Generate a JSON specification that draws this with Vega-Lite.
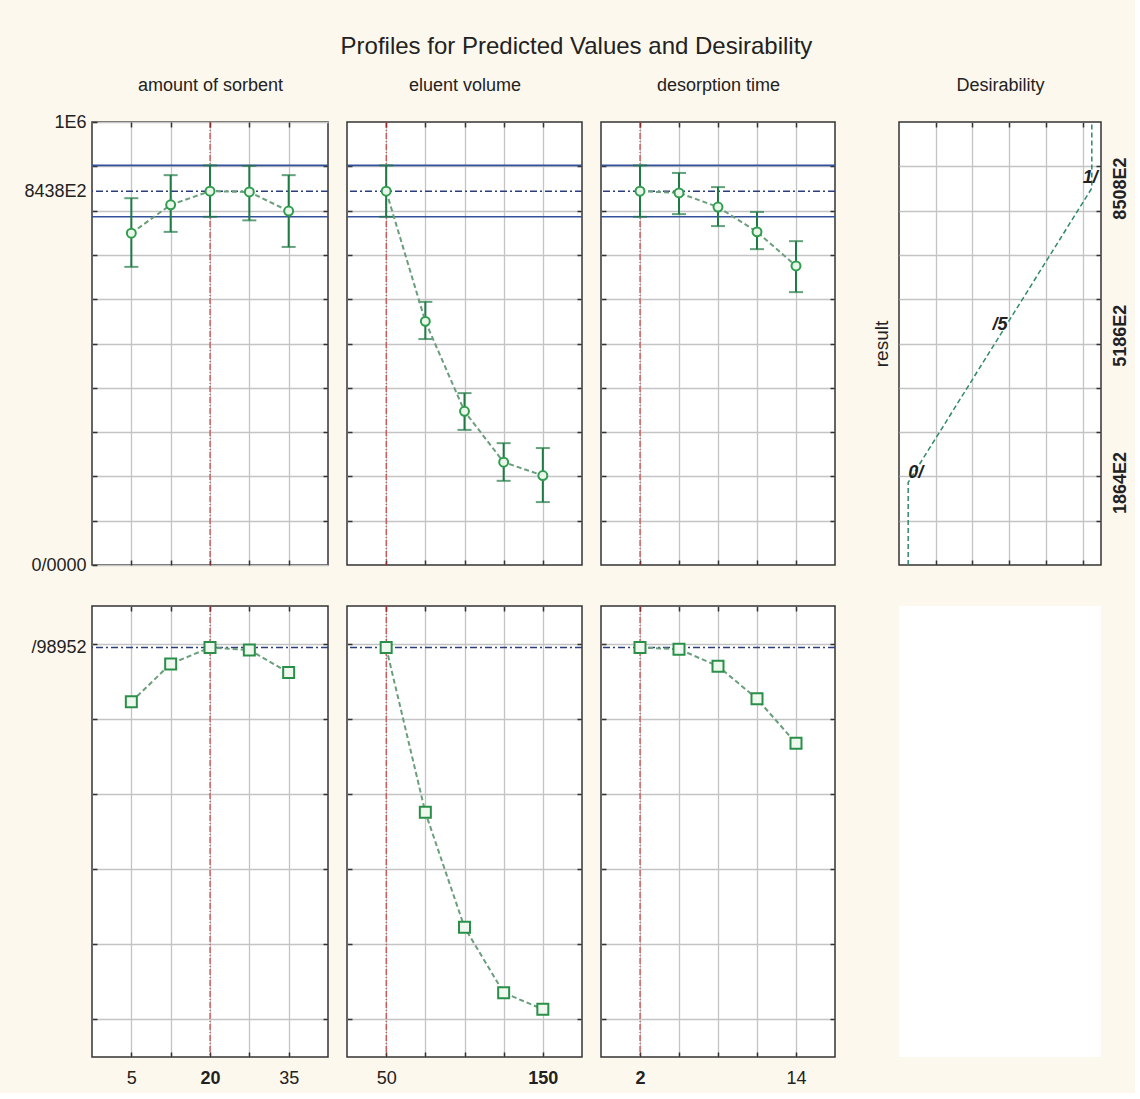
{
"$schema": "https://vega.github.io/schema/vega-lite/v6.json",
"background": "#fdf8ee",
"padding": {"left": 23, "top": 34, "right": 5, "bottom": 5},
"title": {"text": "Profiles for Predicted Values and Desirability", "fontSize": 24, "fontWeight": "normal", "color": "#222222", "offset": 17, "anchor": "middle"},
"columns": 5,
"spacing": {"row": 41, "column": 19},
"bounds": "flush",
"align": "each",
"config": {
  "font": "Liberation Sans",
  "view": {"fill": "white", "stroke": "#333333", "strokeWidth": 1.5},
  "axis": {"domain": false, "tickColor": "#333333", "tickSize": -5, "tickWidth": 1.5, "gridColor": "#c4c4c4", "gridWidth": 1.3, "labelFont": "Liberation Sans", "labelFontSize": 18, "labelColor": "#222222", "labelOverlap": false, "titleFont": "Liberation Sans", "titleFontWeight": "normal", "titleFontSize": 18, "titleColor": "#222222"},
  "title": {"font": "Liberation Sans", "fontWeight": "normal", "color": "#222222"}
},
"datasets": {
  "ciT": [{"y": 902000}, {"y": 786000}],
  "tgtT": [{"y": 843800}],
  "tgtB": [{"y": 0.98952}],
  "curS": [{"x": 20}],
  "curE": [{"x": 50}],
  "curD": [{"x": 2}],
  "sorbT": [
    {"x": 5, "val": 749000, "lo": 673000, "hi": 828000},
    {"x": 12.5, "val": 813000, "lo": 752000, "hi": 880000},
    {"x": 20, "val": 843800, "lo": 786000, "hi": 902000},
    {"x": 27.5, "val": 842000, "lo": 778000, "hi": 901000},
    {"x": 35, "val": 799000, "lo": 718000, "hi": 880000}
  ],
  "eluT": [
    {"x": 50, "val": 843800, "lo": 786000, "hi": 902000},
    {"x": 75, "val": 550000, "lo": 510000, "hi": 594000},
    {"x": 100, "val": 347000, "lo": 305000, "hi": 388000},
    {"x": 125, "val": 232000, "lo": 190000, "hi": 275000},
    {"x": 150, "val": 202000, "lo": 142000, "hi": 264000}
  ],
  "desT": [
    {"x": 2, "val": 843800, "lo": 786000, "hi": 902000},
    {"x": 5, "val": 840000, "lo": 792000, "hi": 885000},
    {"x": 8, "val": 808000, "lo": 765000, "hi": 853000},
    {"x": 11, "val": 752000, "lo": 713000, "hi": 797000},
    {"x": 14, "val": 675000, "lo": 616000, "hi": 731000}
  ],
  "sorbB": [
    {"x": 5, "d": 0.845}, {"x": 12.5, "d": 0.946}, {"x": 20, "d": 0.9895}, {"x": 27.5, "d": 0.983}, {"x": 35, "d": 0.923}
  ],
  "eluB": [
    {"x": 50, "d": 0.9895}, {"x": 75, "d": 0.551}, {"x": 100, "d": 0.245}, {"x": 125, "d": 0.071}, {"x": 150, "d": 0.027}
  ],
  "desB": [
    {"x": 2, "d": 0.9895}, {"x": 5, "d": 0.985}, {"x": 8, "d": 0.94}, {"x": 11, "d": 0.853}, {"x": 14, "d": 0.735}
  ],
  "curve": [
    {"i": 1, "d": 0, "r": 0}, {"i": 2, "d": 0, "r": 186400}, {"i": 3, "d": 1, "r": 850800}, {"i": 4, "d": 1, "r": 1000000}
  ],
  "dlab": [
    {"d": 0, "r": 186400, "t": "0/"}, {"d": 0.5, "r": 518600, "t": "/5"}, {"d": 1, "r": 850800, "t": "1/"}
  ]
},
"concat": [
  {"width": 236, "height": 443,
   "resolve": {"axis": {"x": "independent", "y": "independent"}},
   "layer": [
    {"data": {"name": "ciT"}, "mark": {"type": "rule", "color": "#34519b", "strokeWidth": 1.6},
     "encoding": {"y": {"field": "y", "type": "quantitative", "scale": {"domain": [0, 1000000], "nice": false, "zero": false}, "axis": null}}},
    {"data": {"name": "tgtT"}, "mark": {"type": "rule", "color": "#2c3d7c", "strokeWidth": 1.6, "strokeDash": [7, 3, 2, 3]},
     "encoding": {"y": {"field": "y", "type": "quantitative", "scale": {"domain": [0, 1000000], "nice": false, "zero": false}, "axis": null}}},
    {"data": {"name": "curS"}, "mark": {"type": "rule", "color": "#cc2a2a", "strokeWidth": 1, "strokeDash": [6, 2, 1, 2]},
     "encoding": {"x": {"field": "x", "type": "quantitative", "scale": {"domain": [-2.5, 42.5], "nice": false, "zero": false}, "axis": null}}},
    {"data": {"name": "sorbT"}, "mark": {"type": "rule", "color": "#1f7a45", "strokeWidth": 2},
     "encoding": {
       "x": {"field": "x", "type": "quantitative", "scale": {"domain": [-2.5, 42.5], "nice": false, "zero": false}, "axis": {"orient": "bottom", "values": [5, 12.5, 20, 27.5, 35], "labels": false, "grid": true, "title": null}},
       "y": {"field": "lo", "type": "quantitative", "scale": {"domain": [0, 1000000], "nice": false, "zero": false}, "axis": {"orient": "left", "values": [0, 100000, 200000, 300000, 400000, 500000, 600000, 700000, 800000, 900000, 1000000, 843800], "labelExpr": "datum.value == 1000000 ? '1E6' : datum.value == 843800 ? '8438E2' : datum.value == 0 ? '0/0000' : ''", "labelPadding": 11, "grid": true, "title": null, "gridOpacity": {"condition": {"test": "datum.value == 843800", "value": 0}, "value": 1}, "tickOpacity": {"condition": {"test": "datum.value == 843800", "value": 0}, "value": 1}}},
       "y2": {"field": "hi"}}},
    {"data": {"name": "sorbT"}, "mark": {"type": "tick", "orient": "horizontal", "color": "#1f7a45", "size": 14, "thickness": 2},
     "encoding": {
       "x": {"field": "x", "type": "quantitative", "scale": {"domain": [-2.5, 42.5], "nice": false, "zero": false}, "axis": null},
       "y": {"field": "lo", "type": "quantitative", "scale": {"domain": [0, 1000000], "nice": false, "zero": false}, "axis": null}}},
    {"data": {"name": "sorbT"}, "mark": {"type": "tick", "orient": "horizontal", "color": "#1f7a45", "size": 14, "thickness": 2},
     "encoding": {
       "x": {"field": "x", "type": "quantitative", "scale": {"domain": [-2.5, 42.5], "nice": false, "zero": false}, "axis": null},
       "y": {"field": "hi", "type": "quantitative", "scale": {"domain": [0, 1000000], "nice": false, "zero": false}, "axis": null}}},
    {"data": {"name": "sorbT"}, "mark": {"type": "line", "color": "#6a9e7c", "strokeWidth": 2, "strokeDash": [5, 3]},
     "encoding": {
       "x": {"field": "x", "type": "quantitative", "scale": {"domain": [-2.5, 42.5], "nice": false, "zero": false}, "axis": null},
       "y": {"field": "val", "type": "quantitative", "scale": {"domain": [0, 1000000], "nice": false, "zero": false}, "axis": null}}},
    {"data": {"name": "sorbT"}, "mark": {"type": "point", "shape": "circle", "size": 80, "filled": true, "fill": "#eaf6ea", "stroke": "#2f9d4e", "strokeWidth": 2, "opacity": 1},
     "encoding": {
       "x": {"field": "x", "type": "quantitative", "scale": {"domain": [-2.5, 42.5], "nice": false, "zero": false}, "axis": {"orient": "top", "values": [5, 12.5, 20, 27.5, 35], "labels": false, "grid": false, "title": "amount of sorbent", "titlePadding": 27}},
       "y": {"field": "val", "type": "quantitative", "scale": {"domain": [0, 1000000], "nice": false, "zero": false}, "axis": {"orient": "right", "values": [100000, 200000, 300000, 400000, 500000, 600000, 700000, 800000, 900000], "labels": false, "grid": false, "title": null}}}}
   ]},
  {"width": 235, "height": 443,
   "resolve": {"axis": {"x": "independent", "y": "independent"}},
   "layer": [
    {"data": {"name": "ciT"}, "mark": {"type": "rule", "color": "#34519b", "strokeWidth": 1.6},
     "encoding": {"y": {"field": "y", "type": "quantitative", "scale": {"domain": [0, 1000000], "nice": false, "zero": false}, "axis": null}}},
    {"data": {"name": "tgtT"}, "mark": {"type": "rule", "color": "#2c3d7c", "strokeWidth": 1.6, "strokeDash": [7, 3, 2, 3]},
     "encoding": {"y": {"field": "y", "type": "quantitative", "scale": {"domain": [0, 1000000], "nice": false, "zero": false}, "axis": null}}},
    {"data": {"name": "curE"}, "mark": {"type": "rule", "color": "#cc2a2a", "strokeWidth": 1, "strokeDash": [6, 2, 1, 2]},
     "encoding": {"x": {"field": "x", "type": "quantitative", "scale": {"domain": [25, 175], "nice": false, "zero": false}, "axis": null}}},
    {"data": {"name": "eluT"}, "mark": {"type": "rule", "color": "#1f7a45", "strokeWidth": 2},
     "encoding": {
       "x": {"field": "x", "type": "quantitative", "scale": {"domain": [25, 175], "nice": false, "zero": false}, "axis": {"orient": "bottom", "values": [50, 75, 100, 125, 150], "labels": false, "grid": true, "title": null}},
       "y": {"field": "lo", "type": "quantitative", "scale": {"domain": [0, 1000000], "nice": false, "zero": false}, "axis": {"orient": "left", "values": [100000, 200000, 300000, 400000, 500000, 600000, 700000, 800000, 900000], "labels": false, "grid": true, "title": null}},
       "y2": {"field": "hi"}}},
    {"data": {"name": "eluT"}, "mark": {"type": "tick", "orient": "horizontal", "color": "#1f7a45", "size": 14, "thickness": 2},
     "encoding": {
       "x": {"field": "x", "type": "quantitative", "scale": {"domain": [25, 175], "nice": false, "zero": false}, "axis": null},
       "y": {"field": "lo", "type": "quantitative", "scale": {"domain": [0, 1000000], "nice": false, "zero": false}, "axis": null}}},
    {"data": {"name": "eluT"}, "mark": {"type": "tick", "orient": "horizontal", "color": "#1f7a45", "size": 14, "thickness": 2},
     "encoding": {
       "x": {"field": "x", "type": "quantitative", "scale": {"domain": [25, 175], "nice": false, "zero": false}, "axis": null},
       "y": {"field": "hi", "type": "quantitative", "scale": {"domain": [0, 1000000], "nice": false, "zero": false}, "axis": null}}},
    {"data": {"name": "eluT"}, "mark": {"type": "line", "color": "#6a9e7c", "strokeWidth": 2, "strokeDash": [5, 3]},
     "encoding": {
       "x": {"field": "x", "type": "quantitative", "scale": {"domain": [25, 175], "nice": false, "zero": false}, "axis": null},
       "y": {"field": "val", "type": "quantitative", "scale": {"domain": [0, 1000000], "nice": false, "zero": false}, "axis": null}}},
    {"data": {"name": "eluT"}, "mark": {"type": "point", "shape": "circle", "size": 80, "filled": true, "fill": "#eaf6ea", "stroke": "#2f9d4e", "strokeWidth": 2, "opacity": 1},
     "encoding": {
       "x": {"field": "x", "type": "quantitative", "scale": {"domain": [25, 175], "nice": false, "zero": false}, "axis": {"orient": "top", "values": [50, 75, 100, 125, 150], "labels": false, "grid": false, "title": "eluent volume", "titlePadding": 27}},
       "y": {"field": "val", "type": "quantitative", "scale": {"domain": [0, 1000000], "nice": false, "zero": false}, "axis": {"orient": "right", "values": [100000, 200000, 300000, 400000, 500000, 600000, 700000, 800000, 900000], "labels": false, "grid": false, "title": null}}}}
   ]},
  {"width": 234, "height": 443,
   "resolve": {"axis": {"x": "independent", "y": "independent"}},
   "layer": [
    {"data": {"name": "ciT"}, "mark": {"type": "rule", "color": "#34519b", "strokeWidth": 1.6},
     "encoding": {"y": {"field": "y", "type": "quantitative", "scale": {"domain": [0, 1000000], "nice": false, "zero": false}, "axis": null}}},
    {"data": {"name": "tgtT"}, "mark": {"type": "rule", "color": "#2c3d7c", "strokeWidth": 1.6, "strokeDash": [7, 3, 2, 3]},
     "encoding": {"y": {"field": "y", "type": "quantitative", "scale": {"domain": [0, 1000000], "nice": false, "zero": false}, "axis": null}}},
    {"data": {"name": "curD"}, "mark": {"type": "rule", "color": "#cc2a2a", "strokeWidth": 1, "strokeDash": [6, 2, 1, 2]},
     "encoding": {"x": {"field": "x", "type": "quantitative", "scale": {"domain": [-1, 17], "nice": false, "zero": false}, "axis": null}}},
    {"data": {"name": "desT"}, "mark": {"type": "rule", "color": "#1f7a45", "strokeWidth": 2},
     "encoding": {
       "x": {"field": "x", "type": "quantitative", "scale": {"domain": [-1, 17], "nice": false, "zero": false}, "axis": {"orient": "bottom", "values": [2, 5, 8, 11, 14], "labels": false, "grid": true, "title": null}},
       "y": {"field": "lo", "type": "quantitative", "scale": {"domain": [0, 1000000], "nice": false, "zero": false}, "axis": {"orient": "left", "values": [100000, 200000, 300000, 400000, 500000, 600000, 700000, 800000, 900000], "labels": false, "grid": true, "title": null}},
       "y2": {"field": "hi"}}},
    {"data": {"name": "desT"}, "mark": {"type": "tick", "orient": "horizontal", "color": "#1f7a45", "size": 14, "thickness": 2},
     "encoding": {
       "x": {"field": "x", "type": "quantitative", "scale": {"domain": [-1, 17], "nice": false, "zero": false}, "axis": null},
       "y": {"field": "lo", "type": "quantitative", "scale": {"domain": [0, 1000000], "nice": false, "zero": false}, "axis": null}}},
    {"data": {"name": "desT"}, "mark": {"type": "tick", "orient": "horizontal", "color": "#1f7a45", "size": 14, "thickness": 2},
     "encoding": {
       "x": {"field": "x", "type": "quantitative", "scale": {"domain": [-1, 17], "nice": false, "zero": false}, "axis": null},
       "y": {"field": "hi", "type": "quantitative", "scale": {"domain": [0, 1000000], "nice": false, "zero": false}, "axis": null}}},
    {"data": {"name": "desT"}, "mark": {"type": "line", "color": "#6a9e7c", "strokeWidth": 2, "strokeDash": [5, 3]},
     "encoding": {
       "x": {"field": "x", "type": "quantitative", "scale": {"domain": [-1, 17], "nice": false, "zero": false}, "axis": null},
       "y": {"field": "val", "type": "quantitative", "scale": {"domain": [0, 1000000], "nice": false, "zero": false}, "axis": null}}},
    {"data": {"name": "desT"}, "mark": {"type": "point", "shape": "circle", "size": 80, "filled": true, "fill": "#eaf6ea", "stroke": "#2f9d4e", "strokeWidth": 2, "opacity": 1},
     "encoding": {
       "x": {"field": "x", "type": "quantitative", "scale": {"domain": [-1, 17], "nice": false, "zero": false}, "axis": {"orient": "top", "values": [2, 5, 8, 11, 14], "labels": false, "grid": false, "title": "desorption time", "titlePadding": 27}},
       "y": {"field": "val", "type": "quantitative", "scale": {"domain": [0, 1000000], "nice": false, "zero": false}, "axis": {"orient": "right", "values": [100000, 200000, 300000, 400000, 500000, 600000, 700000, 800000, 900000], "labels": false, "grid": false, "title": null}}}}
   ]},
  {"width": 26, "height": 443, "view": {"stroke": null, "fill": null},
   "data": {"values": [{}]}, "mark": {"type": "point", "opacity": 0}},
  {"width": 202, "height": 443,
   "resolve": {"axis": {"x": "independent", "y": "independent"}},
   "layer": [
    {"data": {"name": "curve"}, "mark": {"type": "line", "color": "#2f8a6a", "strokeWidth": 1.5, "strokeDash": [5, 3]},
     "encoding": {
       "x": {"field": "d", "type": "quantitative", "scale": {"domain": [-0.05, 1.05], "nice": false, "zero": false}, "axis": {"orient": "bottom", "values": [0.15, 0.35, 0.55, 0.75, 0.95], "labels": false, "grid": true, "title": null}},
       "y": {"field": "r", "type": "quantitative", "scale": {"domain": [0, 1000000], "nice": false, "zero": false}, "axis": {"orient": "left", "values": [100000, 200000, 300000, 400000, 500000, 600000, 700000, 800000, 900000], "labels": false, "grid": true, "title": "result", "titleFontSize": 19, "titlePadding": 8, "ticks": false}},
       "order": {"field": "i", "type": "quantitative"}}},
    {"data": {"name": "dlab"}, "transform": [{"filter": "datum.t == '0/'"}],
     "mark": {"type": "text", "align": "left", "baseline": "alphabetic", "dy": -4, "fontSize": 18, "fontStyle": "italic", "fontWeight": "bold", "color": "#222222"},
     "encoding": {
       "x": {"field": "d", "type": "quantitative", "scale": {"domain": [-0.05, 1.05], "nice": false, "zero": false}, "axis": null},
       "y": {"field": "r", "type": "quantitative", "scale": {"domain": [0, 1000000], "nice": false, "zero": false}, "axis": null},
       "text": {"field": "t"}}},
    {"data": {"name": "dlab"}, "transform": [{"filter": "datum.t == '/5'"}],
     "mark": {"type": "text", "align": "center", "baseline": "alphabetic", "dy": -5, "fontSize": 18, "fontStyle": "italic", "fontWeight": "bold", "color": "#222222"},
     "encoding": {
       "x": {"field": "d", "type": "quantitative", "scale": {"domain": [-0.05, 1.05], "nice": false, "zero": false}, "axis": null},
       "y": {"field": "r", "type": "quantitative", "scale": {"domain": [0, 1000000], "nice": false, "zero": false}, "axis": null},
       "text": {"field": "t"}}},
    {"data": {"name": "dlab"}, "transform": [{"filter": "datum.t == '1/'"}],
     "mark": {"type": "text", "align": "right", "baseline": "alphabetic", "dx": 6, "dy": -5, "fontSize": 18, "fontStyle": "italic", "fontWeight": "bold", "color": "#222222"},
     "encoding": {
       "x": {"field": "d", "type": "quantitative", "scale": {"domain": [-0.05, 1.05], "nice": false, "zero": false}, "axis": {"orient": "top", "values": [0.15, 0.35, 0.55, 0.75, 0.95], "labels": false, "grid": false, "title": "Desirability", "titlePadding": 27}},
       "y": {"field": "r", "type": "quantitative", "scale": {"domain": [0, 1000000], "nice": false, "zero": false}, "axis": {"orient": "right", "values": [100000, 200000, 300000, 400000, 500000, 600000, 700000, 800000, 900000, 186400, 518600, 850800], "labelExpr": "datum.value == 186400 ? '1864E2' : datum.value == 518600 ? '5186E2' : datum.value == 850800 ? '8508E2' : ''", "labelAngle": 270, "labelAlign": "center", "labelBaseline": "top", "labelPadding": 15, "labelFontWeight": "bold", "grid": false, "title": null, "tickOpacity": {"condition": {"test": "datum.value == 186400 || datum.value == 518600 || datum.value == 850800", "value": 0}, "value": 1}}},
       "text": {"field": "t"}}}
   ]},
  {"width": 236, "height": 451,
   "resolve": {"axis": {"x": "independent", "y": "independent"}},
   "layer": [
    {"data": {"name": "tgtB"}, "mark": {"type": "rule", "color": "#2c3d7c", "strokeWidth": 1.6, "strokeDash": [7, 3, 2, 3]},
     "encoding": {"y": {"field": "y", "type": "quantitative", "scale": {"domain": [-0.1, 1.1], "nice": false, "zero": false}, "axis": null}}},
    {"data": {"name": "curS"}, "mark": {"type": "rule", "color": "#cc2a2a", "strokeWidth": 1, "strokeDash": [6, 2, 1, 2]},
     "encoding": {"x": {"field": "x", "type": "quantitative", "scale": {"domain": [-2.5, 42.5], "nice": false, "zero": false}, "axis": null}}},
    {"data": {"name": "sorbB"}, "mark": {"type": "line", "color": "#6a9e7c", "strokeWidth": 2, "strokeDash": [5, 3]},
     "encoding": {
       "x": {"field": "x", "type": "quantitative", "scale": {"domain": [-2.5, 42.5], "nice": false, "zero": false}, "axis": {"orient": "bottom", "values": [5, 12.5, 20, 27.5, 35], "labelExpr": "datum.value == 5 ? '5' : datum.value == 20 ? '20' : datum.value == 35 ? '35' : ''", "labelFontWeight": {"condition": {"test": "datum.value == 20", "value": "bold"}, "value": "normal"}, "labelPadding": 17, "grid": true, "title": null}},
       "y": {"field": "d", "type": "quantitative", "scale": {"domain": [-0.1, 1.1], "nice": false, "zero": false}, "axis": {"orient": "left", "values": [0, 0.2, 0.4, 0.6, 0.8, 1, 0.98952], "labelExpr": "datum.value == 0.98952 ? '/98952' : ''", "labelPadding": 11, "grid": true, "title": null, "gridOpacity": {"condition": {"test": "datum.value == 0.98952", "value": 0}, "value": 1}, "tickOpacity": {"condition": {"test": "datum.value == 0.98952", "value": 0}, "value": 1}}}}},
    {"data": {"name": "sorbB"}, "mark": {"type": "point", "shape": "square", "size": 121, "filled": true, "fill": "#eef8ee", "stroke": "#2a8f48", "strokeWidth": 2, "opacity": 1},
     "encoding": {
       "x": {"field": "x", "type": "quantitative", "scale": {"domain": [-2.5, 42.5], "nice": false, "zero": false}, "axis": {"orient": "top", "values": [5, 12.5, 20, 27.5, 35], "labels": false, "grid": false, "title": null}},
       "y": {"field": "d", "type": "quantitative", "scale": {"domain": [-0.1, 1.1], "nice": false, "zero": false}, "axis": {"orient": "right", "values": [0, 0.2, 0.4, 0.6, 0.8, 1], "labels": false, "grid": false, "title": null}}}}
   ]},
  {"width": 235, "height": 451,
   "resolve": {"axis": {"x": "independent", "y": "independent"}},
   "layer": [
    {"data": {"name": "tgtB"}, "mark": {"type": "rule", "color": "#2c3d7c", "strokeWidth": 1.6, "strokeDash": [7, 3, 2, 3]},
     "encoding": {"y": {"field": "y", "type": "quantitative", "scale": {"domain": [-0.1, 1.1], "nice": false, "zero": false}, "axis": null}}},
    {"data": {"name": "curE"}, "mark": {"type": "rule", "color": "#cc2a2a", "strokeWidth": 1, "strokeDash": [6, 2, 1, 2]},
     "encoding": {"x": {"field": "x", "type": "quantitative", "scale": {"domain": [25, 175], "nice": false, "zero": false}, "axis": null}}},
    {"data": {"name": "eluB"}, "mark": {"type": "line", "color": "#6a9e7c", "strokeWidth": 2, "strokeDash": [5, 3]},
     "encoding": {
       "x": {"field": "x", "type": "quantitative", "scale": {"domain": [25, 175], "nice": false, "zero": false}, "axis": {"orient": "bottom", "values": [50, 75, 100, 125, 150], "labelExpr": "datum.value == 50 ? '50' : datum.value == 150 ? '150' : ''", "labelFontWeight": {"condition": {"test": "datum.value == 150", "value": "bold"}, "value": "normal"}, "labelPadding": 17, "grid": true, "title": null}},
       "y": {"field": "d", "type": "quantitative", "scale": {"domain": [-0.1, 1.1], "nice": false, "zero": false}, "axis": {"orient": "left", "values": [0, 0.2, 0.4, 0.6, 0.8, 1], "labels": false, "grid": true, "title": null}}}},
    {"data": {"name": "eluB"}, "mark": {"type": "point", "shape": "square", "size": 121, "filled": true, "fill": "#eef8ee", "stroke": "#2a8f48", "strokeWidth": 2, "opacity": 1},
     "encoding": {
       "x": {"field": "x", "type": "quantitative", "scale": {"domain": [25, 175], "nice": false, "zero": false}, "axis": {"orient": "top", "values": [50, 75, 100, 125, 150], "labels": false, "grid": false, "title": null}},
       "y": {"field": "d", "type": "quantitative", "scale": {"domain": [-0.1, 1.1], "nice": false, "zero": false}, "axis": {"orient": "right", "values": [0, 0.2, 0.4, 0.6, 0.8, 1], "labels": false, "grid": false, "title": null}}}}
   ]},
  {"width": 234, "height": 451,
   "resolve": {"axis": {"x": "independent", "y": "independent"}},
   "layer": [
    {"data": {"name": "tgtB"}, "mark": {"type": "rule", "color": "#2c3d7c", "strokeWidth": 1.6, "strokeDash": [7, 3, 2, 3]},
     "encoding": {"y": {"field": "y", "type": "quantitative", "scale": {"domain": [-0.1, 1.1], "nice": false, "zero": false}, "axis": null}}},
    {"data": {"name": "curD"}, "mark": {"type": "rule", "color": "#cc2a2a", "strokeWidth": 1, "strokeDash": [6, 2, 1, 2]},
     "encoding": {"x": {"field": "x", "type": "quantitative", "scale": {"domain": [-1, 17], "nice": false, "zero": false}, "axis": null}}},
    {"data": {"name": "desB"}, "mark": {"type": "line", "color": "#6a9e7c", "strokeWidth": 2, "strokeDash": [5, 3]},
     "encoding": {
       "x": {"field": "x", "type": "quantitative", "scale": {"domain": [-1, 17], "nice": false, "zero": false}, "axis": {"orient": "bottom", "values": [2, 5, 8, 11, 14], "labelExpr": "datum.value == 2 ? '2' : datum.value == 14 ? '14' : ''", "labelFontWeight": {"condition": {"test": "datum.value == 2", "value": "bold"}, "value": "normal"}, "labelPadding": 17, "grid": true, "title": null}},
       "y": {"field": "d", "type": "quantitative", "scale": {"domain": [-0.1, 1.1], "nice": false, "zero": false}, "axis": {"orient": "left", "values": [0, 0.2, 0.4, 0.6, 0.8, 1], "labels": false, "grid": true, "title": null}}}},
    {"data": {"name": "desB"}, "mark": {"type": "point", "shape": "square", "size": 121, "filled": true, "fill": "#eef8ee", "stroke": "#2a8f48", "strokeWidth": 2, "opacity": 1},
     "encoding": {
       "x": {"field": "x", "type": "quantitative", "scale": {"domain": [-1, 17], "nice": false, "zero": false}, "axis": {"orient": "top", "values": [2, 5, 8, 11, 14], "labels": false, "grid": false, "title": null}},
       "y": {"field": "d", "type": "quantitative", "scale": {"domain": [-0.1, 1.1], "nice": false, "zero": false}, "axis": {"orient": "right", "values": [0, 0.2, 0.4, 0.6, 0.8, 1], "labels": false, "grid": false, "title": null}}}}
   ]},
  {"width": 26, "height": 451, "view": {"stroke": null, "fill": null},
   "data": {"values": [{}]}, "mark": {"type": "point", "opacity": 0}},
  {"width": 202, "height": 451, "view": {"stroke": null, "fill": "white"},
   "data": {"values": [{}]}, "mark": {"type": "point", "opacity": 0}}
]
}
